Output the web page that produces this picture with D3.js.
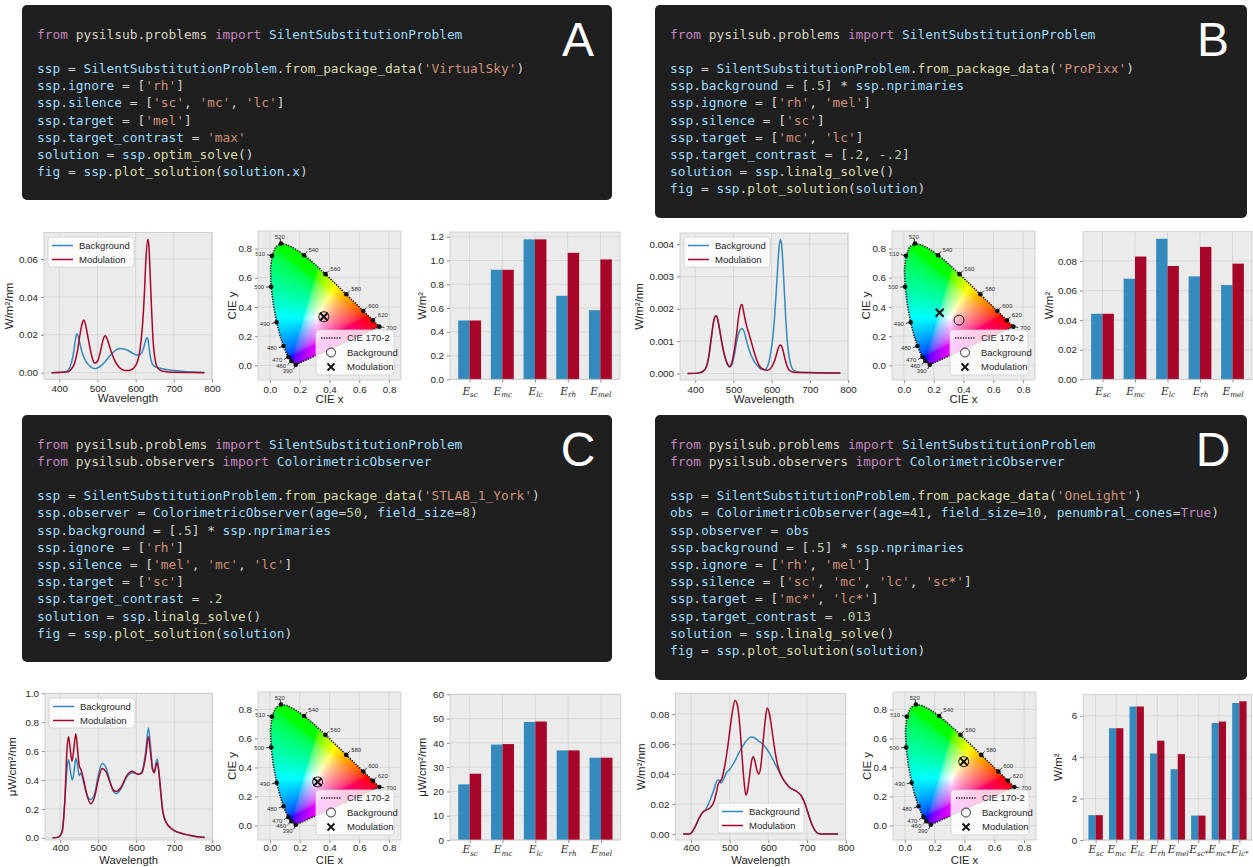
<!DOCTYPE html>
<html><head><meta charset="utf-8">
<script src="https://d3js.org/d3.v7.min.js"></script>
<style>html,body{margin:0;padding:0;background:#fff;}svg{display:block}</style>
</head><body>
<svg id="fig" width="1253" height="867" xmlns="http://www.w3.org/2000/svg"></svg>
<script>
// ================= DATA =================
const codeA = [
 "from pysilsub.problems import SilentSubstitutionProblem",
 "",
 "ssp = SilentSubstitutionProblem.from_package_data('VirtualSky')",
 "ssp.ignore = ['rh']",
 "ssp.silence = ['sc', 'mc', 'lc']",
 "ssp.target = ['mel']",
 "ssp.target_contrast = 'max'",
 "solution = ssp.optim_solve()",
 "fig = ssp.plot_solution(solution.x)"
];
const codeB = [
 "from pysilsub.problems import SilentSubstitutionProblem",
 "",
 "ssp = SilentSubstitutionProblem.from_package_data('ProPixx')",
 "ssp.background = [.5] * ssp.nprimaries",
 "ssp.ignore = ['rh', 'mel']",
 "ssp.silence = ['sc']",
 "ssp.target = ['mc', 'lc']",
 "ssp.target_contrast = [.2, -.2]",
 "solution = ssp.linalg_solve()",
 "fig = ssp.plot_solution(solution)"
];
const codeC = [
 "from pysilsub.problems import SilentSubstitutionProblem",
 "from pysilsub.observers import ColorimetricObserver",
 "",
 "ssp = SilentSubstitutionProblem.from_package_data('STLAB_1_York')",
 "ssp.observer = ColorimetricObserver(age=50, field_size=8)",
 "ssp.background = [.5] * ssp.nprimaries",
 "ssp.ignore = ['rh']",
 "ssp.silence = ['mel', 'mc', 'lc']",
 "ssp.target = ['sc']",
 "ssp.target_contrast = .2",
 "solution = ssp.linalg_solve()",
 "fig = ssp.plot_solution(solution)"
];
const codeD = [
 "from pysilsub.problems import SilentSubstitutionProblem",
 "from pysilsub.observers import ColorimetricObserver",
 "",
 "ssp = SilentSubstitutionProblem.from_package_data('OneLight')",
 "obs = ColorimetricObserver(age=41, field_size=10, penumbral_cones=True)",
 "ssp.observer = obs",
 "ssp.background = [.5] * ssp.nprimaries",
 "ssp.ignore = ['rh', 'mel']",
 "ssp.silence = ['sc', 'mc', 'lc', 'sc*']",
 "ssp.target = ['mc*', 'lc*']",
 "ssp.target_contrast = .013",
 "solution = ssp.linalg_solve()",
 "fig = ssp.plot_solution(solution)"
];

const seriesNames = ["Background", "Modulation"];
const specTicksX = [400, 500, 600, 700, 800];

// Panel A spectra
const wlA_bg = [380,400,420,430,437,442,446,450,455,460,467,475,485,492,500,510,520,530,540,550,560,570,580,590,600,608,615,620,625,629,632,636,640,645,650,660,670,680,700,720,750,780];
const specA_bg = [0,0.0001,0.0008,0.004,0.010,0.017,0.0205,0.019,0.0145,0.0105,0.007,0.0045,0.0027,0.0022,0.0025,0.0037,0.0058,0.0083,0.0105,0.0122,0.0128,0.0125,0.0117,0.0105,0.0095,0.0093,0.0102,0.0125,0.016,0.0185,0.0178,0.012,0.0068,0.0042,0.0033,0.0026,0.0021,0.0017,0.0011,0.0007,0.0003,0.0001];
const wlA_mod = [380,420,430,440,448,455,460,464,468,474,480,486,493,500,507,513,518,521,525,530,537,545,555,565,575,585,595,605,612,618,623,627,632,635,638,642,646,651,656,665,680,700,750,780];
const specA_mod = [0,0.0003,0.0015,0.005,0.012,0.021,0.026,0.0278,0.026,0.020,0.0135,0.008,0.005,0.006,0.0105,0.016,0.019,0.0195,0.018,0.015,0.0105,0.0065,0.0033,0.0016,0.0011,0.0013,0.0025,0.006,0.013,0.025,0.042,0.060,0.0705,0.066,0.052,0.032,0.016,0.007,0.003,0.0012,0.0005,0.0002,0.0001,0];

// Panel B spectra
const wlB_bg = [380,410,425,435,442,448,453,456,460,466,472,478,484,490,496,502,508,514,519,523,527,532,538,545,553,562,572,582,590,597,603,608,613,617,620,623,626,629,633,637,641,646,652,660,680,720,780];
const specB_bg = [0,0.00002,0.00012,0.0005,0.0011,0.0016,0.00178,0.00177,0.0016,0.0012,0.0008,0.0005,0.0003,0.0002,0.00028,0.00055,0.00095,0.00125,0.00137,0.00138,0.00132,0.00112,0.00085,0.0006,0.0004,0.00025,0.00014,0.00012,0.00025,0.0006,0.0011,0.0018,0.0027,0.0035,0.00395,0.00413,0.004,0.0035,0.0026,0.0017,0.001,0.0005,0.0002,0.00008,0.00003,0.00002,0.00002];
const wlB_mod = [380,410,425,435,442,448,453,456,460,466,472,478,484,490,496,502,508,514,518,521,523,526,530,535,540,545,552,560,570,580,590,600,608,614,618,622,626,630,635,640,646,655,670,700,740,780];
const specB_mod = [0,0.00002,0.00012,0.0005,0.0011,0.0016,0.00178,0.00177,0.0016,0.0012,0.0008,0.0005,0.0003,0.00022,0.00035,0.0007,0.0012,0.0018,0.00205,0.00213,0.00212,0.00195,0.0017,0.00145,0.00125,0.00105,0.00075,0.00045,0.0002,0.00012,0.0001,0.0002,0.0004,0.00065,0.0008,0.00088,0.00085,0.0007,0.00045,0.00025,0.0001,0.00005,0.00003,0.00003,0.00002,0.00002];

// Panel C spectra
const wlC_bg = [380,395,405,412,418,422,428,432,437,441,446,450,455,460,470,480,490,500,510,520,530,540,548,560,575,590,605,615,625,632,638,643,647,652,655,660,665,670,680,690,700,720,740,760,780];
const specC_bg = [0,0.005,0.05,0.25,0.48,0.54,0.44,0.40,0.47,0.55,0.50,0.43,0.45,0.40,0.30,0.265,0.30,0.43,0.515,0.49,0.40,0.32,0.305,0.34,0.42,0.45,0.44,0.46,0.60,0.76,0.62,0.48,0.46,0.52,0.545,0.45,0.30,0.18,0.10,0.07,0.05,0.03,0.018,0.008,0.003];
const wlC_mod = [380,395,405,412,418,422,427,431,436,441,446,450,455,460,470,480,490,500,510,520,530,540,548,560,575,590,605,615,625,632,638,643,647,652,655,660,665,670,680,690,700,720,740,760,780];
const specC_mod = [0,0.005,0.04,0.25,0.62,0.70,0.60,0.53,0.62,0.72,0.60,0.50,0.47,0.42,0.30,0.235,0.28,0.40,0.48,0.46,0.39,0.33,0.32,0.35,0.43,0.46,0.44,0.45,0.57,0.70,0.58,0.47,0.45,0.50,0.52,0.44,0.30,0.18,0.10,0.07,0.05,0.03,0.018,0.008,0.003];

// Panel D spectra
const wlD_bg = [380,395,400,410,420,430,440,445,450,460,466,470,474,478,485,492,500,510,520,530,540,550,558,565,575,585,595,605,615,625,635,645,655,665,675,685,695,705,715,725,735,780];
const specD_bg = [0,0,0.0005,0.0044,0.010,0.0144,0.017,0.020,0.023,0.030,0.035,0.036,0.0355,0.034,0.037,0.041,0.043,0.047,0.052,0.057,0.061,0.064,0.0647,0.064,0.062,0.060,0.057,0.053,0.048,0.043,0.038,0.034,0.031,0.0295,0.028,0.0255,0.020,0.012,0.005,0.001,0,0];
const wlD_mod = [380,395,400,410,420,430,440,450,460,466,470,475,480,487,495,502,508,514,520,526,532,538,542,547,552,557,561,565,570,575,580,586,592,597,603,610,618,625,635,645,655,665,675,685,695,705,715,725,735,780];
const specD_mod = [0,0,0.0005,0.0044,0.010,0.0144,0.016,0.0175,0.022,0.028,0.033,0.035,0.037,0.045,0.058,0.072,0.083,0.089,0.086,0.073,0.052,0.033,0.026,0.030,0.040,0.049,0.0515,0.049,0.043,0.040,0.044,0.060,0.076,0.084,0.080,0.068,0.054,0.045,0.038,0.034,0.031,0.0295,0.028,0.0255,0.020,0.012,0.005,0.001,0,0];

// Bar charts
const cats5 = ["sc", "mc", "lc", "rh", "mel"];
const cats8 = ["sc", "mc", "lc", "rh", "mel", "sc*", "mc*", "lc*"];
const barA_bg  = [0.495, 0.922, 1.178, 0.703, 0.582];
const barA_mod = [0.495, 0.922, 1.178, 1.065, 1.009];
const barB_bg  = [0.0443, 0.068, 0.095, 0.0696, 0.0637];
const barB_mod = [0.0443, 0.083, 0.0766, 0.0895, 0.0782];
const barC_bg  = [22.9, 39.3, 48.6, 36.9, 33.9];
const barC_mod = [27.3, 39.5, 48.8, 36.9, 33.9];
const barD_bg  = [1.2, 5.4, 6.45, 4.18, 3.42, 1.18, 5.65, 6.62];
const barD_mod = [1.2, 5.4, 6.45, 4.8, 4.15, 1.18, 5.72, 6.7];

// CIE chromaticity (spectral locus)
const locusWl = [380,385,390,395,400,405,410,415,420,425,430,435,440,445,450,455,460,465,470,475,480,485,490,495,500,505,510,515,520,525,530,535,540,545,550,555,560,565,570,575,580,585,590,595,600,605,610,615,620,625,630,635,640,645,650,660,670,680,700];
const locusX = [0.1741,0.1740,0.1738,0.1736,0.1733,0.1730,0.1726,0.1721,0.1714,0.1703,0.1689,0.1669,0.1644,0.1611,0.1566,0.1510,0.1440,0.1355,0.1241,0.1096,0.0913,0.0687,0.0454,0.0235,0.0082,0.0039,0.0139,0.0389,0.0743,0.1142,0.1547,0.1929,0.2296,0.2658,0.3016,0.3373,0.3731,0.4087,0.4441,0.4788,0.5125,0.5448,0.5752,0.6029,0.6270,0.6482,0.6658,0.6801,0.6915,0.7006,0.7079,0.7140,0.7190,0.7230,0.7260,0.7300,0.7320,0.7334,0.7347];
const locusY = [0.0050,0.0050,0.0049,0.0049,0.0048,0.0048,0.0048,0.0048,0.0051,0.0058,0.0069,0.0086,0.0109,0.0138,0.0177,0.0227,0.0297,0.0399,0.0578,0.0868,0.1327,0.2007,0.2950,0.4127,0.5384,0.6548,0.7502,0.8120,0.8338,0.8262,0.8059,0.7816,0.7543,0.7243,0.6923,0.6589,0.6245,0.5896,0.5547,0.5202,0.4866,0.4544,0.4242,0.3965,0.3725,0.3514,0.3340,0.3197,0.3083,0.2993,0.2920,0.2859,0.2809,0.2770,0.2740,0.2700,0.2680,0.2666,0.2653];
const locusLabelWl = [390,460,470,480,490,500,510,520,540,560,580,600,620,700];
const cieTicks = [0.0, 0.2, 0.4, 0.6, 0.8];
const cieA_bg = [0.362, 0.333], cieA_mod = [0.362, 0.333];
const cieB_bg = [0.37, 0.31],  cieB_mod = [0.24, 0.36];
const cieC_bg = [0.32, 0.30],  cieC_mod = [0.32, 0.30];
const cieD_bg = [0.395, 0.44], cieD_mod = [0.395, 0.44];

// ================= DRAWING =================
const svg = d3.select('#fig');
const SANS = "'Liberation Sans', Arial, Helvetica, sans-serif";
const MONO = "'DejaVu Sans Mono', monospace";
const SERIF = "'DejaVu Serif', 'Liberation Serif', serif";
const BG = '#ebebeb', GRID = '#d3d3d3', EDGE = '#c8c8c8', TXT = '#262626';
const BLUE = '#348ABD', RED = '#A60628';

function tokenize(line) {
  const out = [];
  const re = /('[^']*')|([A-Za-z_][A-Za-z0-9_]*)|(\d*\.\d+|\d+)|(\s+)|(.)/g;
  let m, inFrom = false, prev = '';
  while ((m = re.exec(line))) {
    const s = m[0]; let c = '#d4d4d4';
    if (m[1]) c = '#ce9178';
    else if (m[2]) {
      if (s === 'from' || s === 'import' || s === 'True') { c = '#c586c0'; inFrom = (s === 'from'); }
      else if (inFrom) c = '#d8d4c0';
      else {
        const next = line[re.lastIndex];
        c = (next === '(' && prev === '.') ? '#dcdcaa' : '#9cdcfe';
      }
    } else if (m[3]) c = '#b5cea8';
    if (!m[4]) prev = s;
    out.push({ s, c });
  }
  return out;
}

function codeBox(x, y, w, h, lines, letter) {
  const g = svg.append('g');
  g.append('rect').attr('x', x).attr('y', y).attr('width', w).attr('height', h).attr('rx', 5).attr('fill', '#1f1f1f');
  g.append('text').attr('x', x + w - 34).attr('y', y + 51).attr('text-anchor', 'middle')
    .attr('font-family', SANS).attr('font-size', 48).attr('fill', '#ffffff').text(letter);
  lines.forEach((ln, i) => {
    if (!ln) return;
    const t = g.append('text').attr('x', x + 15).attr('y', y + 33.5 + i * 17.2)
      .attr('font-family', MONO).attr('font-size', 12.85).style('white-space', 'pre');
    tokenize(ln).forEach(tok => t.append('tspan').attr('fill', tok.c).text(tok.s));
  });
}

function axesBase(g, x, y, b, xt, yt, xfmt, yfmt) {
  g.append('rect').attr('x', b.x0).attr('y', b.y0).attr('width', b.x1 - b.x0).attr('height', b.y1 - b.y0).attr('fill', BG);
  g.append('g').selectAll('line').data(xt).join('line')
    .attr('x1', d => x(d)).attr('x2', d => x(d)).attr('y1', b.y0).attr('y2', b.y1)
    .attr('stroke', GRID).attr('stroke-width', 0.8);
  g.append('g').selectAll('line').data(yt).join('line')
    .attr('y1', d => y(d)).attr('y2', d => y(d)).attr('x1', b.x0).attr('x2', b.x1)
    .attr('stroke', GRID).attr('stroke-width', 0.8);
  const ax = g.append('g').attr('transform', `translate(0,${b.y1})`)
    .call(d3.axisBottom(x).tickValues(xt).tickFormat(xfmt).tickSize(3).tickPadding(b.tp !== undefined ? b.tp : 3));
  const ay = g.append('g').attr('transform', `translate(${b.x0},0)`)
    .call(d3.axisLeft(y).tickValues(yt).tickFormat(yfmt).tickSize(3).tickPadding(3));
  [ax, ay].forEach(a => {
    a.select('.domain').remove();
    a.attr('font-family', null).attr('font-size', null);
    a.selectAll('line').attr('stroke', '#888');
    a.selectAll('text').attr('fill', TXT).attr('font-family', SANS).attr('font-size', 9.8);
  });
  return { ax, ay };
}
function frameOutline(g, b) {
  g.append('rect').attr('x', b.x0).attr('y', b.y0).attr('width', b.x1 - b.x0).attr('height', b.y1 - b.y0)
    .attr('fill', 'none').attr('stroke', EDGE).attr('stroke-width', 0.8);
}
function yLabel(g, txt, x, b) {
  g.append('text').attr('transform', `translate(${x},${(b.y0 + b.y1) / 2}) rotate(-90)`)
    .attr('text-anchor', 'middle').attr('font-family', SANS).attr('font-size', 11.5).attr('fill', TXT).text(txt);
}
function xLabel(g, txt, b) {
  g.append('text').attr('x', (b.x0 + b.x1) / 2).attr('y', b.y1 + (b.xl || 23))
    .attr('text-anchor', 'middle').attr('font-family', SANS).attr('font-size', b.xfs || 11.5).attr('fill', TXT).text(txt);
}

function spectrumPanel(o) {
  const b = o.box, g = svg.append('g');
  const x = d3.scaleLinear().domain([360, 800]).range([b.x0, b.x1]);
  const y = d3.scaleLinear().domain(o.ydom).range([b.y1, b.y0]);
  axesBase(g, x, y, b, specTicksX, o.yticks, d3.format('d'), d3.format(o.yfmt));
  const line = d3.line().x(d => x(d[0])).y(d => y(d[1])).curve(d3.curveMonotoneX);
  const ser = [{ wl: o.wlBg, v: o.bg, c: BLUE }, { wl: o.wlMod, v: o.mod, c: RED }];
  ser.forEach(s => g.append('path').datum(d3.zip(s.wl, s.v)).attr('d', line)
    .attr('fill', 'none').attr('stroke', s.c).attr('stroke-width', 1.5));
  frameOutline(g, b);
  const L = o.legend;
  const lg = g.append('g');
  lg.append('rect').attr('x', L.x).attr('y', L.y).attr('width', 86).attr('height', 30).attr('rx', 3)
    .attr('fill', '#ffffff').attr('fill-opacity', 0.8).attr('stroke', '#d0d0d0').attr('stroke-width', 0.8);
  seriesNames.forEach((n, i) => {
    const yy = L.y + 8.5 + i * 14;
    lg.append('line').attr('x1', L.x + 4).attr('x2', L.x + 25).attr('y1', yy).attr('y2', yy)
      .attr('stroke', i ? RED : BLUE).attr('stroke-width', 1.5);
    lg.append('text').attr('x', L.x + 31).attr('y', yy + 3.4).attr('font-family', SANS).attr('font-size', 9.5)
      .attr('fill', TXT).text(n);
  });
  yLabel(g, o.ylabel, o.ylabelX, b);
  xLabel(g, 'Wavelength', b);
}

function barPanel(o) {
  const b = o.box, g = svg.append('g');
  const n = o.cats.length;
  const x = d3.scaleLinear().domain(o.xdom).range([b.x0, b.x1]);
  const y = d3.scaleLinear().domain(o.ydom).range([b.y1, b.y0]);
  const idx = d3.range(n);
  const { ax } = axesBase(g, x, y, b, idx, o.yticks, () => '', d3.format(o.yfmt));
  ax.selectAll('.tick text').each(function (d) {
    const t = d3.select(this).text(null).attr('font-family', SERIF).attr('dy', '0.95em');
    t.append('tspan').attr('font-style', 'italic').attr('font-size', 10.5).text('E');
    t.append('tspan').attr('font-style', 'italic').attr('font-size', 7.2).attr('dy', 2.6).text(o.cats[d]);
  });
  const bw = 0.35;
  g.append('g').selectAll('rect').data(idx).join('rect')
    .attr('x', i => x(i - bw)).attr('width', i => x(i) - x(i - bw))
    .attr('y', i => y(o.bg[i])).attr('height', i => y(0) - y(o.bg[i])).attr('fill', BLUE);
  g.append('g').selectAll('rect').data(idx).join('rect')
    .attr('x', i => x(i)).attr('width', i => x(i + bw) - x(i))
    .attr('y', i => y(o.mod[i])).attr('height', i => y(0) - y(o.mod[i])).attr('fill', RED);
  frameOutline(g, b);
  yLabel(g, o.ylabel, o.ylabelX, b);
}

function srgbGamma(c) { return c <= 0.0031308 ? 12.92 * c : 1.055 * Math.pow(c, 1 / 2.4) - 0.055; }

function ciePanel(o, id) {
  const b = o.box, g = svg.append('g');
  const x = d3.scaleLinear().domain([-0.08, 0.88]).range([b.x0, b.x1]);
  const y = d3.scaleLinear().domain([-0.1, 0.92]).range([b.y1, b.y0]);
  axesBase(g, x, y, b, cieTicks, cieTicks, d3.format('.1f'), d3.format('.1f'));
  const pts = locusWl.map((w, i) => [x(locusX[i]), y(locusY[i])]);
  const w = Math.round(b.x1 - b.x0), h = Math.round(b.y1 - b.y0);
  const cv = document.createElement('canvas'); cv.width = w; cv.height = h;
  const ctx = cv.getContext('2d'); const img = ctx.createImageData(w, h);
  for (let j = 0; j < h; j++) for (let i = 0; i < w; i++) {
    const cx = x.invert(b.x0 + i + 0.5), cy = y.invert(b.y0 + j + 0.5);
    const k = (j * w + i) * 4;
    if (cy <= 0.002) { img.data[k + 3] = 0; continue; }
    const X = cx / cy, Y = 1, Z = (1 - cx - cy) / cy;
    let r = 3.2406 * X - 1.5372 * Y - 0.4986 * Z;
    let gg = -0.9689 * X + 1.8758 * Y + 0.0415 * Z;
    let bb = 0.0557 * X - 0.2040 * Y + 1.0570 * Z;
    r = Math.max(r, 0); gg = Math.max(gg, 0); bb = Math.max(bb, 0);
    const mx = Math.max(r, gg, bb) || 1;
    img.data[k] = 255 * srgbGamma(r / mx); img.data[k + 1] = 255 * srgbGamma(gg / mx);
    img.data[k + 2] = 255 * srgbGamma(bb / mx); img.data[k + 3] = 255;
  }
  ctx.putImageData(img, 0, 0);
  const clipId = 'cl' + id;
  svg.append('defs').append('clipPath').attr('id', clipId).append('path')
    .attr('d', d3.line()(pts) + 'Z');
  g.append('image').attr('href', cv.toDataURL()).attr('x', b.x0).attr('y', b.y0)
    .attr('width', w).attr('height', h).attr('preserveAspectRatio', 'none').attr('clip-path', `url(#${clipId})`);
  g.append('path').attr('d', d3.line()(pts) + 'Z').attr('fill', 'none').attr('stroke', '#111')
    .attr('stroke-width', 1.6).attr('stroke-dasharray', '1.3,1.3');
  const wpx = [x(0.333), y(0.333)];
  locusLabelWl.forEach(wl => {
    const i = locusWl.indexOf(wl);
    const p = pts[i], a = pts[Math.max(i - 1, 0)], c = pts[Math.min(i + 1, pts.length - 1)];
    let tx = c[0] - a[0], ty = c[1] - a[1];
    let nx, ny;
    const tl = Math.hypot(tx, ty);
    const ox = p[0] - wpx[0], oy = p[1] - wpx[1], ol = Math.hypot(ox, oy);
    if (tl < 2) { nx = ox / ol; ny = oy / ol; }
    else { nx = -ty / tl; ny = tx / tl; if (nx * ox + ny * oy < 0) { nx = -nx; ny = -ny; } }
    g.append('line').attr('x1', p[0]).attr('y1', p[1]).attr('x2', p[0] + nx * 5).attr('y2', p[1] + ny * 5)
      .attr('stroke', '#111').attr('stroke-width', 0.8);
    g.append('circle').attr('cx', p[0]).attr('cy', p[1]).attr('r', 2.3).attr('fill', '#111');
    g.append('text').attr('x', p[0] + nx * 7).attr('y', p[1] + ny * 7 + 2)
      .attr('text-anchor', nx > 0.35 ? 'start' : (nx < -0.35 ? 'end' : 'middle'))
      .attr('font-family', SANS).attr('font-size', 6).attr('fill', '#333').text(wl);
  });
  g.append('circle').attr('cx', x(o.bg[0])).attr('cy', y(o.bg[1])).attr('r', 5)
    .attr('fill', 'none').attr('stroke', '#111').attr('stroke-width', 1);
  g.append('path').attr('transform', `translate(${x(o.mod[0])},${y(o.mod[1])})`)
    .attr('d', 'M-4,-4L4,4M-4,4L4,-4').attr('stroke', '#111').attr('stroke-width', 2);
  frameOutline(g, b);
  const lx = b.x1 - 85, ly = b.y1 - 50;
  const lg = g.append('g');
  lg.append('rect').attr('x', lx).attr('y', ly).attr('width', 78).attr('height', 45).attr('rx', 3)
    .attr('fill', '#ffffff').attr('fill-opacity', 0.8).attr('stroke', '#d0d0d0').attr('stroke-width', 0.8);
  const ents = ['CIE 170-2', 'Background', 'Modulation'];
  ents.forEach((t, i) => {
    const yy = ly + 8 + i * 14.5, hx = lx + 15;
    if (i === 0) lg.append('line').attr('x1', lx + 5).attr('x2', lx + 25).attr('y1', yy).attr('y2', yy)
      .attr('stroke', '#222').attr('stroke-width', 1.5).attr('stroke-dasharray', '1.3,1.3');
    if (i === 1) lg.append('circle').attr('cx', hx).attr('cy', yy).attr('r', 4.5)
      .attr('fill', 'none').attr('stroke', '#222').attr('stroke-width', 0.9);
    if (i === 2) lg.append('path').attr('transform', `translate(${hx},${yy})`).attr('d', 'M-3.5,-3.5L3.5,3.5M-3.5,3.5L3.5,-3.5')
      .attr('stroke', '#111').attr('stroke-width', 1.8);
    lg.append('text').attr('x', lx + 31).attr('y', yy + 3.4).attr('font-family', SANS).attr('font-size', 9.5)
      .attr('fill', TXT).text(t);
  });
  yLabel(g, 'CIE y', o.ylabelX, b);
  xLabel(g, 'CIE x', b);
}

// ---------- code boxes ----------
codeBox(22, 5, 590, 195, codeA, 'A');
codeBox(655, 5, 592, 213, codeB, 'B');
codeBox(22, 415, 590, 247, codeC, 'C');
codeBox(655, 415, 592, 265, codeD, 'D');

// ---------- panel A ----------
spectrumPanel({ box: { x0: 44, x1: 212, y0: 232.5, y1: 379.3 }, ydom: [-0.0035, 0.074], yticks: [0, 0.02, 0.04, 0.06], yfmt: '.2f',
  wlBg: wlA_bg, bg: specA_bg, wlMod: wlA_mod, mod: specA_mod, ylabel: 'W/m²/nm', ylabelX: 13, legend: { x: 48, y: 237 } });
ciePanel({ box: { x0: 258, x1: 401, y0: 231, y1: 380 }, bg: cieA_bg, mod: cieA_mod, ylabelX: 236 }, 'A');
barPanel({ box: { x0: 450, x1: 620, y0: 232, y1: 379.3 }, cats: cats5, bg: barA_bg, mod: barA_mod, xdom: [-0.6, 4.6],
  ydom: [0, 1.24], yticks: [0, 0.2, 0.4, 0.6, 0.8, 1.0, 1.2], yfmt: '.1f', ylabel: 'W/m²', ylabelX: 426 });

// ---------- panel B ----------
spectrumPanel({ box: { x0: 680, x1: 848, y0: 233, y1: 380 }, ydom: [-0.0002, 0.00434], yticks: [0, 0.001, 0.002, 0.003, 0.004], yfmt: '.3f',
  wlBg: wlB_bg, bg: specB_bg, wlMod: wlB_mod, mod: specB_mod, ylabel: 'W/m²/nm', ylabelX: 643, legend: { x: 684, y: 237 } });
ciePanel({ box: { x0: 892, x1: 1035, y0: 231, y1: 380 }, bg: cieB_bg, mod: cieB_mod, ylabelX: 870 }, 'B');
barPanel({ box: { x0: 1083, x1: 1252, y0: 231.7, y1: 379.3 }, cats: cats5, bg: barB_bg, mod: barB_mod, xdom: [-0.6, 4.6],
  ydom: [0, 0.0998], yticks: [0, 0.02, 0.04, 0.06, 0.08], yfmt: '.2f', ylabel: 'W/m²', ylabelX: 1053 });

// ---------- panel C ----------
const bottomBox = { tp: 1, xl: 24, xfs: 11.2 };
spectrumPanel({ box: Object.assign({ x0: 45, x1: 212.3, y0: 693.3, y1: 840 }, bottomBox), ydom: [-0.015, 1.0], yticks: [0, 0.2, 0.4, 0.6, 0.8, 1.0], yfmt: '.1f',
  wlBg: wlC_bg, bg: specC_bg, wlMod: wlC_mod, mod: specC_mod, ylabel: 'μW/cm²/nm', ylabelX: 16, legend: { x: 49, y: 698 } });
ciePanel({ box: Object.assign({ x0: 258, x1: 401, y0: 692, y1: 840 }, bottomBox), bg: cieC_bg, mod: cieC_mod, ylabelX: 236 }, 'C');
barPanel({ box: { x0: 450, x1: 620.7, y0: 694.3, y1: 840, tp: 1 }, cats: cats5, bg: barC_bg, mod: barC_mod, xdom: [-0.6, 4.6],
  ydom: [0, 60], yticks: [0, 10, 20, 30, 40, 50, 60], yfmt: 'd', ylabel: 'μW/cm²/nm', ylabelX: 426 });

// ---------- panel D ----------
spectrumPanel({ box: Object.assign({ x0: 675.5, x1: 845.7, y0: 693.3, y1: 840 }, bottomBox), ydom: [-0.004, 0.0938], yticks: [0, 0.02, 0.04, 0.06, 0.08], yfmt: '.2f',
  wlBg: wlD_bg, bg: specD_bg, wlMod: wlD_mod, mod: specD_mod, ylabel: 'W/m²/nm', ylabelX: 645, legend: { x: 718, y: 803 } });
ciePanel({ box: Object.assign({ x0: 893, x1: 1036, y0: 692, y1: 840 }, bottomBox), bg: cieD_bg, mod: cieD_mod, ylabelX: 871 }, 'D');
barPanel({ box: { x0: 1083.3, x1: 1251.7, y0: 694.3, y1: 840, tp: 1 }, cats: cats8, bg: barD_bg, mod: barD_mod, xdom: [-0.6, 7.6],
  ydom: [0, 7.04], yticks: [0, 2, 4, 6], yfmt: 'd', ylabel: 'W/m²', ylabelX: 1062 });
</script>
</body></html>
